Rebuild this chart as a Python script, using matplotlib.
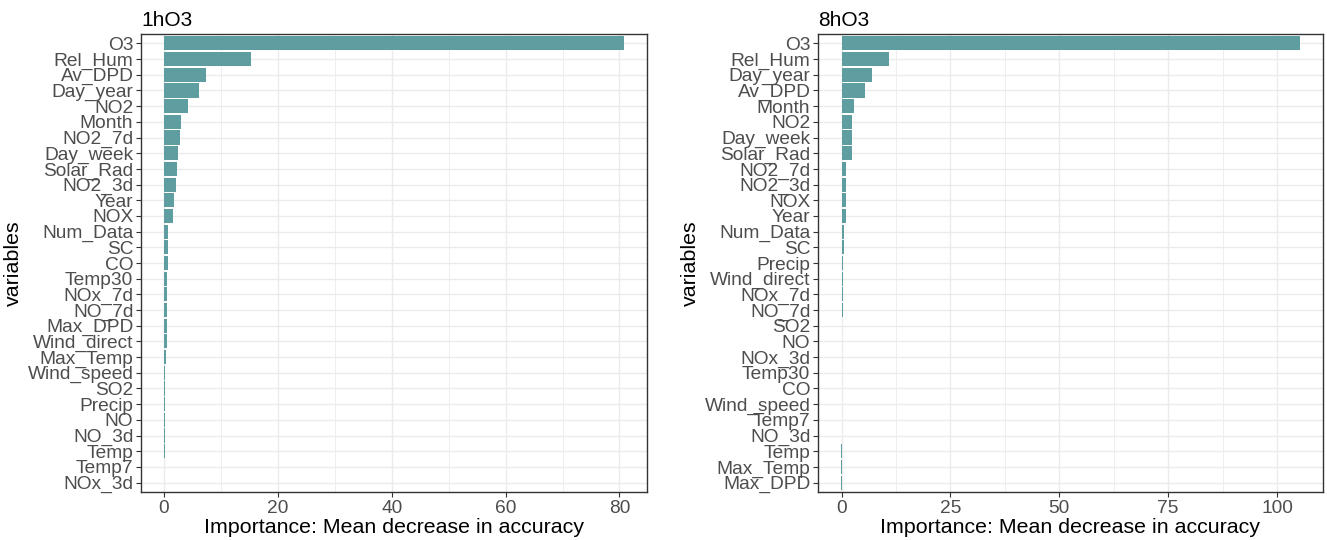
import matplotlib
matplotlib.use("Agg")
import matplotlib.pyplot as plt
from matplotlib.ticker import MultipleLocator

plt.rcParams["font.family"] = ["Liberation Sans", "DejaVu Sans"]

# Variable importance, 1-hour ozone model (sorted by importance)
vars_1h = ["O3", "Rel_Hum", "Av_DPD", "Day_year", "NO2", "Month", "NO2_7d",
           "Day_week", "Solar_Rad", "NO2_3d", "Year", "NOX", "Num_Data", "SC",
           "CO", "Temp30", "NOx_7d", "NO_7d", "Max_DPD", "Wind_direct",
           "Max_Temp", "Wind_speed", "SO2", "Precip", "NO", "NO_3d", "Temp",
           "Temp7", "NOx_3d"]
imp_1h = [80.8, 15.2, 7.4, 6.15, 4.15, 3.05, 2.75, 2.5, 2.35, 2.05, 1.8, 1.5,
          0.65, 0.65, 0.7, 0.6, 0.6, 0.55, 0.55, 0.45, 0.4, 0.25, 0.25, 0.25,
          0.2, 0.2, 0.1, 0.01, -0.01]

# Variable importance, 8-hour ozone model (sorted by importance)
vars_8h = ["O3", "Rel_Hum", "Day_year", "Av_DPD", "Month", "NO2", "Day_week",
           "Solar_Rad", "NO2_7d", "NO2_3d", "NOX", "Year", "Num_Data", "SC",
           "Precip", "Wind_direct", "NOx_7d", "NO_7d", "SO2", "NO", "NOx_3d",
           "Temp30", "CO", "Wind_speed", "Temp7", "NO_3d", "Temp", "Max_Temp",
           "Max_DPD"]
imp_8h = [105.3, 11.0, 6.9, 5.4, 2.9, 2.5, 2.5, 2.35, 1.05, 1.05, 1.0, 0.9,
          0.5, 0.45, 0.35, 0.3, 0.3, 0.25, 0.2, 0.15, 0.15, 0.15, 0.15, 0.01,
          0.0, -0.01, -0.1, -0.12, -0.15]

panels = [
    ("1hO3", vars_1h, imp_1h, 20, [141, 647]),
    ("8hO3", vars_8h, imp_8h, 25, [818, 1323]),
]

W, H = 1327, 540
fig = plt.figure(figsize=(W / 100, H / 100), dpi=100)
top_px, bot_px = 34, 492

bar_color = "#5F9EA0"
grid_color = "#EBEBEB"
text_grey = "#4D4D4D"

for title, names, vals, step, (x0, x1) in panels:
    ax = fig.add_axes([x0 / W, 1 - bot_px / H, (x1 - x0) / W, (bot_px - top_px) / H])
    n = len(names)
    ypos = list(range(n))[::-1]
    ax.barh(ypos, vals, height=0.9, color=bar_color, linewidth=0, zorder=3)
    ax.set_yticks(ypos)
    ax.set_yticklabels(names)
    ax.set_ylim(-0.6, n - 0.4)
    lo, hi = min(min(vals), 0), max(vals)
    pad = 0.05 * (hi - lo)
    ax.set_xlim(lo - pad, hi + pad)
    ax.xaxis.set_major_locator(MultipleLocator(step))
    ax.xaxis.set_minor_locator(MultipleLocator(step / 2))
    ax.grid(True, which="major", color=grid_color, linewidth=1.0, zorder=0)
    ax.grid(True, which="minor", axis="x", color=grid_color, linewidth=0.6, zorder=0)
    ax.set_axisbelow(True)
    for s in ax.spines.values():
        s.set_color("#333333")
        s.set_linewidth(1.0)
    ax.tick_params(axis="both", which="major", labelsize=13.8, colors="#333333",
                   labelcolor=text_grey, length=3.5, width=0.8, pad=2)
    ax.tick_params(axis="x", which="minor", length=0)
    ax.set_title(title, loc="left", fontsize=15, color="black", pad=6)
    ax.set_xlabel("Importance: Mean decrease in accuracy", fontsize=15.4,
                  color="black", labelpad=1)
    ax.set_ylabel("variables", fontsize=15.4, color="black", labelpad=3)

fig.savefig("out.png", dpi=100)
